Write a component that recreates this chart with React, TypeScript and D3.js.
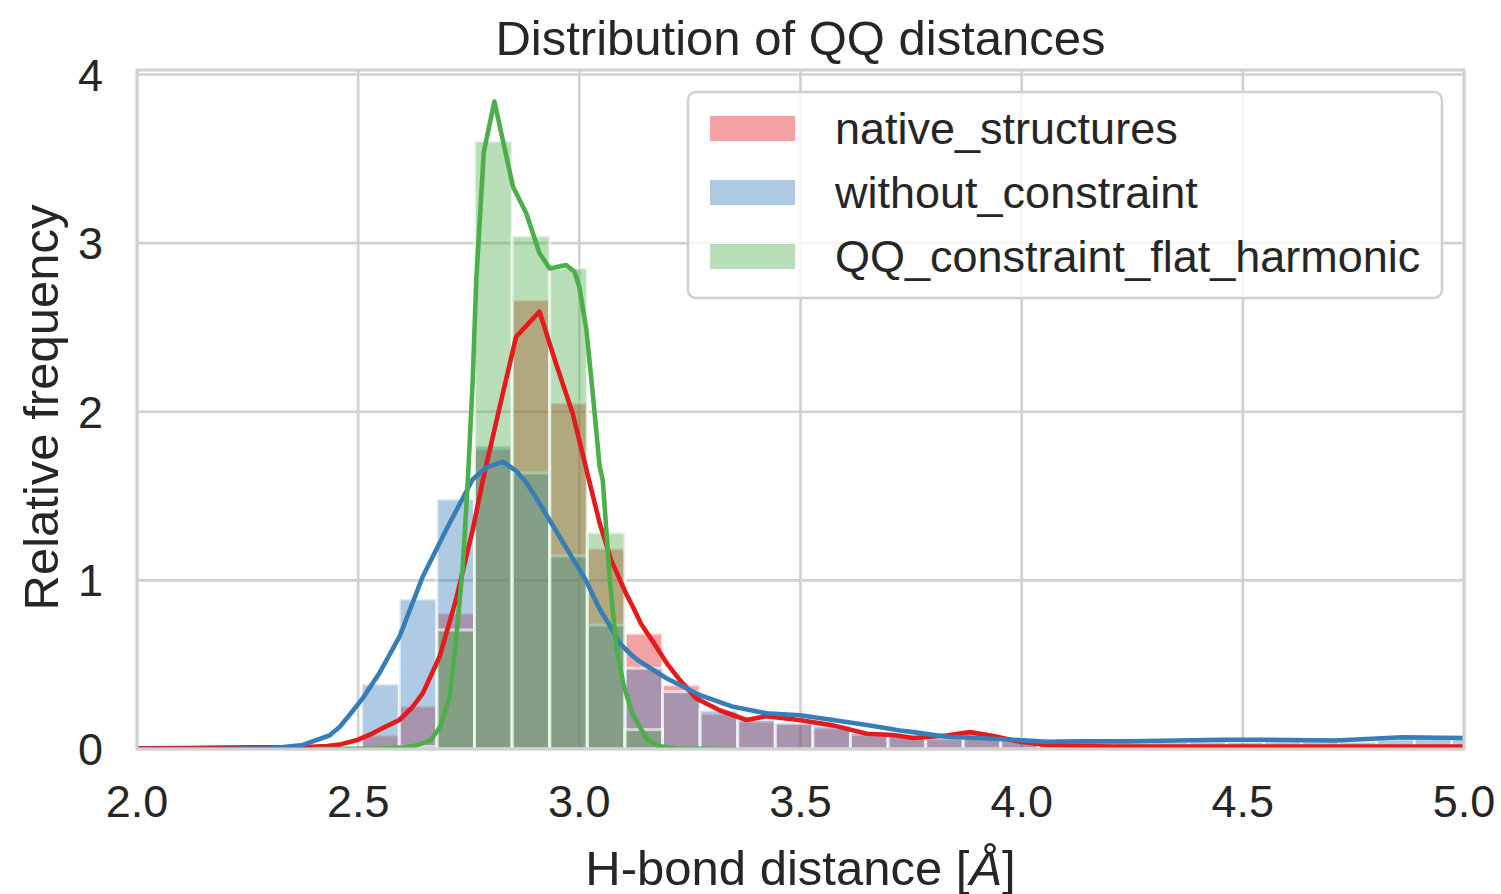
import React from "react";
import * as d3 from "d3";

// ---- data ----
const binStart = 2.508;
const binWidth = 0.085;

const nativeBars = [0.083, 0.255, 0.805, 1.78, 2.663, 2.054, 1.19, 0.686, 0.38, 0.21, 0.165, 0.15, 0.125, 0.085, 0.08, 0.06, 0.09, 0.06, 0.025, 0.02, 0.015, 0.015, 0.015, 0.01, 0.015, 0.015, 0.01, 0.015, 0.015, 0.01];
const withoutBars = [0.386, 0.89, 1.483, 1.8, 1.637, 1.145, 0.735, 0.479, 0.34, 0.23, 0.175, 0.155, 0.14, 0.1, 0.085, 0.07, 0.065, 0.055, 0.04, 0.045, 0.04, 0.045, 0.05, 0.045, 0.055, 0.05, 0.045, 0.06, 0.07, 0.065];
const qqBars = [0.0, 0.015, 0.706, 3.606, 3.043, 2.853, 1.285, 0.115, 0, 0, 0, 0, 0, 0, 0, 0, 0, 0, 0, 0, 0, 0, 0, 0, 0, 0, 0, 0, 0, 0];

const nativeKde: [number, number][] = [
  [2.0, 0.004], [2.1, 0.006], [2.2, 0.009], [2.3, 0.01], [2.38, 0.012], [2.43, 0.018], [2.458, 0.026],
  [2.5, 0.055], [2.533, 0.093], [2.56, 0.13], [2.593, 0.172], [2.62, 0.24], [2.646, 0.33], [2.684, 0.547],
  [2.721, 0.884], [2.759, 1.3], [2.782, 1.595], [2.82, 2.03], [2.857, 2.445], [2.91, 2.594], [2.947, 2.288],
  [2.985, 1.99], [3.02, 1.615], [3.046, 1.339], [3.072, 1.12], [3.106, 0.92], [3.121, 0.844], [3.14, 0.74],
  [3.174, 0.607], [3.2, 0.5], [3.227, 0.41], [3.264, 0.3], [3.317, 0.23], [3.378, 0.172], [3.423, 0.195],
  [3.5, 0.17], [3.574, 0.14], [3.65, 0.09], [3.71, 0.083], [3.755, 0.065], [3.83, 0.08], [3.883, 0.1],
  [3.93, 0.08], [3.996, 0.043], [4.056, 0.024], [4.2, 0.015], [4.5, 0.014], [4.8, 0.014], [5.0, 0.014],
];
const withoutKde: [number, number][] = [
  [2.0, 0.0], [2.2, 0.0], [2.3, 0.003], [2.375, 0.024], [2.435, 0.08], [2.458, 0.13], [2.48, 0.2],
  [2.51, 0.3], [2.548, 0.45], [2.594, 0.67], [2.646, 1.022], [2.699, 1.3], [2.759, 1.6], [2.79, 1.67],
  [2.827, 1.704], [2.857, 1.65], [2.88, 1.58], [2.91, 1.457], [2.955, 1.26], [3.015, 1.0], [3.046, 0.83],
  [3.076, 0.7], [3.09, 0.63], [3.121, 0.55], [3.136, 0.52], [3.197, 0.42], [3.272, 0.32], [3.348, 0.25],
  [3.423, 0.212], [3.499, 0.2], [3.574, 0.172], [3.65, 0.142], [3.725, 0.11], [3.755, 0.1], [3.83, 0.073],
  [3.9, 0.065], [3.98, 0.055], [4.056, 0.043], [4.13, 0.045], [4.24, 0.045], [4.35, 0.05], [4.45, 0.055],
  [4.56, 0.055], [4.71, 0.05], [4.86, 0.07], [5.0, 0.065],
];
const qqKde: [number, number][] = [
  [2.4, 0.0], [2.55, 0.002], [2.6, 0.008], [2.63, 0.02], [2.663, 0.05], [2.685, 0.13], [2.707, 0.31],
  [2.72, 0.607], [2.737, 1.1], [2.748, 1.595], [2.759, 2.19], [2.767, 2.78], [2.784, 3.54], [2.808, 3.84],
  [2.85, 3.335], [2.88, 3.177], [2.91, 2.94], [2.933, 2.85], [2.97, 2.87], [2.989, 2.83], [3.0, 2.742],
  [3.016, 2.485], [3.031, 2.09], [3.046, 1.674], [3.053, 1.595], [3.069, 1.0], [3.084, 0.6], [3.1, 0.38],
  [3.121, 0.2], [3.135, 0.14], [3.152, 0.06], [3.178, 0.018], [3.22, 0.003], [3.35, 0.0],
];

const seriesNames = ["native_structures", "without_constraint", "QQ_constraint_flat_harmonic"];
const seriesColors = ["#e41a1c", "#377eb8", "#4daf4a"];
const xTicks = [2.0, 2.5, 3.0, 3.5, 4.0, 4.5, 5.0];
const yTicks = [0, 1, 2, 3, 4];

const title = "Distribution of QQ distances";
const xLabelMain = "H-bond distance [";
const xLabelUnit = "Å";
const xLabelEnd = "]";
const yLabel = "Relative frequency";

// ---- layout ----
const W = 1501, H = 894;
const L = 137, R = 1464, T = 70, B = 749;
const FONT = "'Liberation Sans', Arial, Helvetica, sans-serif";
const TXT = "#262626";
const GRID = "#d0d0d0";

export default function App() {
  const x = d3.scaleLinear().domain([2, 5]).range([L, R]);
  const y = d3.scaleLinear().domain([0, 4.027]).range([B, T]);
  const line = d3.line<[number, number]>().x(d => x(d[0])).y(d => y(d[1]));

  const bars = [nativeBars, withoutBars, qqBars];
  const kdes = [nativeKde, withoutKde, qqKde];

  return (
    <svg width={W} height={H} style={{ position: "absolute", left: 0, top: 0, display: "block", background: "#fff" }}>
      <defs>
        <clipPath id="plot">
          <rect x={L} y={T} width={R - L} height={B - T} />
        </clipPath>
      </defs>
      <rect x={0} y={0} width={W} height={H} fill="#fff" />
      {/* grid */}
      {xTicks.map(t => (
        <line key={"gx" + t} x1={x(t)} x2={x(t)} y1={T} y2={B} stroke={GRID} strokeWidth={2.6} />
      ))}
      {yTicks.map(t => (
        <line key={"gy" + t} x1={L} x2={R} y1={y(t)} y2={y(t)} stroke={GRID} strokeWidth={2.6} />
      ))}
      <g clipPath="url(#plot)">
        {bars.map((vals, si) => (
          <g key={"bars" + si}>
            {vals.map((v, i) => {
              if (v <= 0) return null;
              const x0 = binStart + i * binWidth;
              return (
                <rect
                  key={i}
                  x={x(x0)}
                  y={y(v)}
                  width={x(x0 + binWidth) - x(x0)}
                  height={y(0) - y(v)}
                  fill={seriesColors[si]}
                  fillOpacity={0.4}
                  stroke="#ffffff"
                  strokeOpacity={0.6}
                  strokeWidth={3}
                />
              );
            })}
          </g>
        ))}
        {kdes.map((k, si) => (
          <path key={"kde" + si} d={line(k) || ""} fill="none" stroke={seriesColors[si]} strokeWidth={4.6} strokeLinejoin="round" strokeLinecap="round" />
        ))}
      </g>
      {/* frame */}
      <rect x={L} y={T} width={R - L} height={B - T} fill="none" stroke={GRID} strokeWidth={3} />
      {/* ticks */}
      {xTicks.map(t => (
        <text key={"xt" + t} x={x(t)} y={817} textAnchor="middle" fontFamily={FONT} fontSize={45} fill={TXT}>
          {t.toFixed(1)}
        </text>
      ))}
      {yTicks.map(t => (
        <text key={"yt" + t} x={103} y={y(t) + 16} textAnchor="end" fontFamily={FONT} fontSize={45} fill={TXT}>
          {t}
        </text>
      ))}
      {/* labels */}
      <text x={(L + R) / 2} y={55} textAnchor="middle" fontFamily={FONT} fontSize={49} fill={TXT}>{title}</text>
      <text x={(L + R) / 2} y={885} textAnchor="middle" fontFamily={FONT} fontSize={49} fill={TXT}>
        {xLabelMain}
        <tspan fontStyle="italic">{xLabelUnit}</tspan>
        {xLabelEnd}
      </text>
      <text transform={`translate(58, ${(T + B) / 2 - 2}) rotate(-90)`} textAnchor="middle" fontFamily={FONT} fontSize={49} fill={TXT}>{yLabel}</text>
      {/* legend */}
      <g>
        <rect x={688} y={92} width={754} height={206} rx={8} ry={8} fill="#ffffff" fillOpacity={0.8} stroke={GRID} strokeWidth={2.5} />
        {seriesNames.map((n, i) => (
          <g key={n}>
            <rect x={710} y={116 + i * 64} width={85} height={25} fill={seriesColors[i]} fillOpacity={0.4} />
            <text x={835} y={128 + i * 64 + 16} fontFamily={FONT} fontSize={45} fill={TXT}>{n}</text>
          </g>
        ))}
      </g>
    </svg>
  );
}
